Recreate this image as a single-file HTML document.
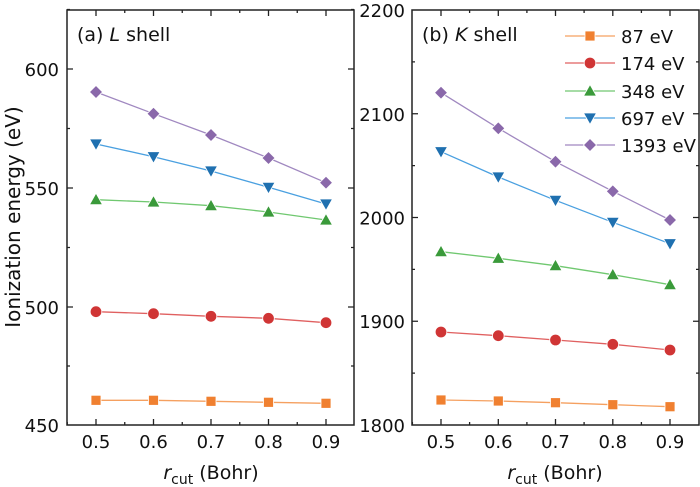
<!DOCTYPE html>
<html><head><meta charset="utf-8"><style>
body{margin:0;background:#fff}
svg{display:block;font-family:"DejaVu Sans","Liberation Sans",sans-serif}
</style></head><body>
<svg width="700" height="487" viewBox="0 0 700 487" xmlns="http://www.w3.org/2000/svg">
<defs>
<g id="sq"><rect x="-5" y="-5" width="10" height="10" fill="#f08030" stroke="#fff" stroke-width="0.8"/></g>
<g id="ci"><circle r="5.8" fill="#d03535" stroke="#fff" stroke-width="0.8"/></g>
<g id="tu"><path d="M0,-6.5 L6.5,5 L-6.5,5Z" fill="#3a9a3a" stroke="#fff" stroke-width="0.8"/></g>
<g id="td"><path d="M0,6.5 L6.5,-5 L-6.5,-5Z" fill="#1f70b0" stroke="#fff" stroke-width="0.8"/></g>
<g id="di"><path d="M0,-6.5 L6.5,0 L0,6.5 L-6.5,0Z" fill="#8a68aa" stroke="#fff" stroke-width="0.8"/></g>
</defs>
<!-- Left panel -->
<rect x="67" y="10" width="287" height="415" fill="none" stroke="#222" stroke-width="1.5"/>
<g stroke="#222" stroke-width="1.3">
<path d="M96,425v-6M153.5,425v-6M211,425v-6M268.5,425v-6M326,425v-6M124.75,425v-3M182.25,425v-3M239.75,425v-3M297.25,425v-3M67.25,425v-3M96,10v6M153.5,10v6M211,10v6M268.5,10v6M326,10v6M124.75,10v3M182.25,10v3M239.75,10v3M297.25,10v3"/>
<path d="M67,69h6M67,188h6M67,307h6M67,128.5h3M67,247.5h3M67,366h3M354,69h-6M354,188h-6M354,307h-6M354,128.5h-3M354,247.5h-3M354,366h-3M67,9.5h3M354,9.5h-3"/>
</g>
<g font-size="18" fill="#111" text-anchor="end">
<text x="59" y="76">600</text><text x="59" y="195">550</text><text x="59" y="314">500</text><text x="59" y="432">450</text>
</g>
<g font-size="18" fill="#111" text-anchor="middle">
<text x="96" y="448">0.5</text><text x="153.5" y="448">0.6</text><text x="211" y="448">0.7</text><text x="268.5" y="448">0.8</text><text x="326" y="448">0.9</text>
</g>
<text x="211" y="479" font-size="19" text-anchor="middle" fill="#111"><tspan font-style="italic">r</tspan><tspan font-size="14" dy="5">cut</tspan><tspan dy="-5"> (Bohr)</tspan></text>
<text transform="translate(20,217) rotate(-90)" font-size="20" text-anchor="middle" fill="#111">Ionization energy (eV)</text>
<text x="77" y="41" font-size="19" fill="#111">(a) <tspan font-style="italic">L</tspan> shell</text>
<polyline points="96,92 153.5,113.7 211,135 268.5,158 326,182.7" fill="none" stroke="#a088c0" stroke-width="1.3"/>
<polyline points="96,144 153.5,156.7 211,171 268.5,187.3 326,204" fill="none" stroke="#4aa0e0" stroke-width="1.3"/>
<polyline points="96,199.7 153.5,202 211,205.7 268.5,212 326,220" fill="none" stroke="#70c870" stroke-width="1.3"/>
<polyline points="96,311.7 153.5,313.7 211,316.3 268.5,318.3 326,322.7" fill="none" stroke="#e06060" stroke-width="1.3"/>
<polyline points="96,400.3 153.5,400.3 211,401.3 268.5,402.3 326,403.3" fill="none" stroke="#f5a060" stroke-width="1.3"/>
<use href="#di" x="96" y="92"/><use href="#di" x="153.5" y="113.7"/><use href="#di" x="211" y="135"/><use href="#di" x="268.5" y="158"/><use href="#di" x="326" y="182.7"/>
<use href="#td" x="96" y="144"/><use href="#td" x="153.5" y="156.7"/><use href="#td" x="211" y="171"/><use href="#td" x="268.5" y="187.3"/><use href="#td" x="326" y="204"/>
<use href="#tu" x="96" y="199.7"/><use href="#tu" x="153.5" y="202"/><use href="#tu" x="211" y="205.7"/><use href="#tu" x="268.5" y="212"/><use href="#tu" x="326" y="220"/>
<use href="#ci" x="96" y="311.7"/><use href="#ci" x="153.5" y="313.7"/><use href="#ci" x="211" y="316.3"/><use href="#ci" x="268.5" y="318.3"/><use href="#ci" x="326" y="322.7"/>
<use href="#sq" x="96" y="400.3"/><use href="#sq" x="153.5" y="400.3"/><use href="#sq" x="211" y="401.3"/><use href="#sq" x="268.5" y="402.3"/><use href="#sq" x="326" y="403.3"/>

<!-- Right panel -->
<rect x="412" y="10" width="287" height="415" fill="none" stroke="#222" stroke-width="1.5"/>
<g stroke="#222" stroke-width="1.3">
<path d="M441,425v-6M498.3,425v-6M555.5,425v-6M612.8,425v-6M670,425v-6M469.6,425v-3M526.9,425v-3M584.1,425v-3M641.4,425v-3M412.4,425v-3M441,10v6M498.3,10v6M555.5,10v6M612.8,10v6M670,10v6M469.6,10v3M526.9,10v3M584.1,10v3M641.4,10v3"/>
<path d="M412,113.75h6M412,217.5h6M412,321.25h6M412,61.9h3M412,165.6h3M412,269.4h3M412,373.1h3M699,113.75h-6M699,217.5h-6M699,321.25h-6M699,61.9h-3M699,165.6h-3M699,269.4h-3M699,373.1h-3"/>
</g>
<g font-size="18" fill="#111" text-anchor="end">
<text x="405" y="17">2200</text><text x="405" y="121">2100</text><text x="405" y="224.5">2000</text><text x="405" y="328">1900</text><text x="405" y="432">1800</text>
</g>
<g font-size="18" fill="#111" text-anchor="middle">
<text x="441" y="448">0.5</text><text x="498.3" y="448">0.6</text><text x="555.5" y="448">0.7</text><text x="612.8" y="448">0.8</text><text x="670" y="448">0.9</text>
</g>
<text x="555" y="479" font-size="19" text-anchor="middle" fill="#111"><tspan font-style="italic">r</tspan><tspan font-size="14" dy="5">cut</tspan><tspan dy="-5"> (Bohr)</tspan></text>
<text x="422" y="41" font-size="19" fill="#111">(b) <tspan font-style="italic">K</tspan> shell</text>
<polyline points="441,92.7 498.3,128.3 555.5,161.7 612.8,191.3 670,220" fill="none" stroke="#a088c0" stroke-width="1.3"/>
<polyline points="441,151.7 498.3,177 555.5,200.3 612.8,222.3 670,243.7" fill="none" stroke="#4aa0e0" stroke-width="1.3"/>
<polyline points="441,251.7 498.3,258.3 555.5,265.7 612.8,274.7 670,284.7" fill="none" stroke="#70c870" stroke-width="1.3"/>
<polyline points="441,332 498.3,335.7 555.5,340 612.8,344.3 670,350" fill="none" stroke="#e06060" stroke-width="1.3"/>
<polyline points="441,400 498.3,401 555.5,402.7 612.8,404.7 670,406.7" fill="none" stroke="#f5a060" stroke-width="1.3"/>
<use href="#di" x="441" y="92.7"/><use href="#di" x="498.3" y="128.3"/><use href="#di" x="555.5" y="161.7"/><use href="#di" x="612.8" y="191.3"/><use href="#di" x="670" y="220"/>
<use href="#td" x="441" y="151.7"/><use href="#td" x="498.3" y="177"/><use href="#td" x="555.5" y="200.3"/><use href="#td" x="612.8" y="222.3"/><use href="#td" x="670" y="243.7"/>
<use href="#tu" x="441" y="251.7"/><use href="#tu" x="498.3" y="258.3"/><use href="#tu" x="555.5" y="265.7"/><use href="#tu" x="612.8" y="274.7"/><use href="#tu" x="670" y="284.7"/>
<use href="#ci" x="441" y="332"/><use href="#ci" x="498.3" y="335.7"/><use href="#ci" x="555.5" y="340"/><use href="#ci" x="612.8" y="344.3"/><use href="#ci" x="670" y="350"/>
<use href="#sq" x="441" y="400"/><use href="#sq" x="498.3" y="401"/><use href="#sq" x="555.5" y="402.7"/><use href="#sq" x="612.8" y="404.7"/><use href="#sq" x="670" y="406.7"/>

<!-- Legend -->
<g stroke-width="1.3">
<line x1="565" y1="36" x2="615" y2="36" stroke="#f5a060"/>
<line x1="565" y1="63" x2="615" y2="63" stroke="#e06060"/>
<line x1="565" y1="91" x2="615" y2="91" stroke="#70c870"/>
<line x1="565" y1="118" x2="615" y2="118" stroke="#4aa0e0"/>
<line x1="565" y1="145" x2="615" y2="145" stroke="#a088c0"/>
</g>
<use href="#sq" x="590" y="36"/><use href="#ci" x="590" y="63"/><use href="#tu" x="590" y="91"/><use href="#td" x="590" y="118"/><use href="#di" x="590" y="145"/>
<g font-size="18" fill="#111">
<text x="621" y="43">87 eV</text><text x="621" y="70">174 eV</text><text x="621" y="98">348 eV</text><text x="621" y="125">697 eV</text><text x="621" y="152">1393 eV</text>
</g>
</svg>
</body></html>
